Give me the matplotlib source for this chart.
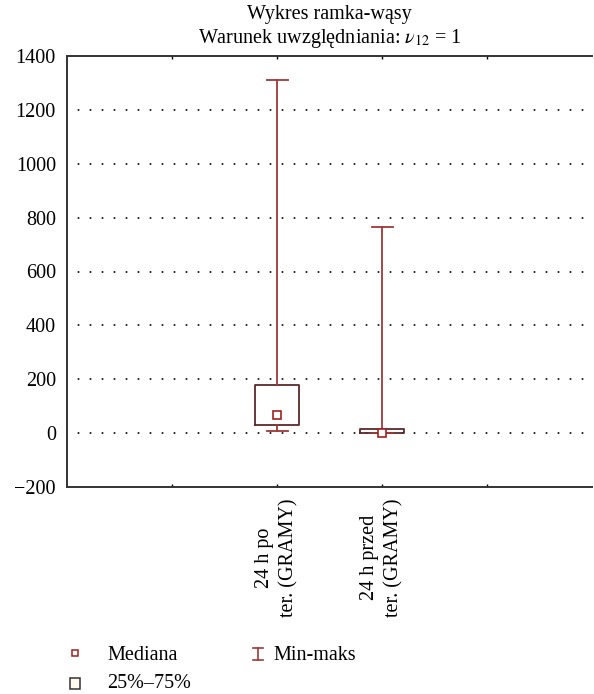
import matplotlib
matplotlib.use("Agg")
import matplotlib.pyplot as plt
from matplotlib.lines import Line2D
from matplotlib.patches import Rectangle

plt.rcParams['font.family'] = ['Liberation Serif', 'DejaVu Serif']
plt.rcParams['mathtext.fontset'] = 'stix'

# Data
categories = ["24 h po\nter. (GRAMY)", "24 h przed\nter. (GRAMY)"]
positions = [2, 3]
medians = [67, 0]
q1 = [30, 0]
q3 = [178, 14]
mins = [8, 0]
maxs = [1310, 767]
yticks = [-200, 0, 200, 400, 600, 800, 1000, 1200, 1400]

W, H = 594, 694
fig = plt.figure(figsize=(W/100, H/100), dpi=100)
ax = fig.add_axes([67/W, 1-487/H, (592-67)/W, (487-56)/H])

box_edge = '#5a2a2a'
whisk_col = '#a03838'
med_col = '#a02020'

stats = []
for i in range(len(categories)):
    stats.append(dict(med=medians[i], q1=q1[i], q3=q3[i],
                      whislo=mins[i], whishi=maxs[i], fliers=[]))

ax.bxp(stats, positions=positions, widths=0.41, capwidths=0.2,
       showfliers=False, patch_artist=False,
       boxprops=dict(color=box_edge, linewidth=1.3),
       whiskerprops=dict(color=whisk_col, linewidth=1.3),
       capprops=dict(color=whisk_col, linewidth=1.3),
       medianprops=dict(linewidth=0))
ax.plot(positions, medians, linestyle='none', marker='s', markersize=6,
        markerfacecolor='white', markeredgecolor=med_col, markeredgewidth=1.2,
        zorder=5)

FS = 14.5
ax.set_xlim(0, 5)
ax.set_ylim(-200, 1400)
ax.set_yticks(yticks)
ax.set_yticklabels([("\u2212" + str(-v)) if v < 0 else str(v) for v in yticks], fontsize=FS)
ax.set_xticks([1, 2, 3, 4])
ax.set_xticklabels(["", categories[0], categories[1], ""], rotation=90,
                   fontsize=FS, multialignment='center', va='top', linespacing=1.35)
ax.tick_params(axis='x', direction='in', length=2.5, width=1, top=True, pad=8)
ax.tick_params(axis='y', length=0, pad=8)
for v in yticks[1:-1]:
    ax.axhline(v, color='black', linestyle=(0.8, (1, 6.2)), linewidth=1.2, zorder=0)
for s in ['left', 'bottom', 'top']:
    ax.spines[s].set_linewidth(1.4)
    ax.spines[s].set_color('#333333')
ax.spines['right'].set_visible(False)

fig.text(329.5/W, 1-14/H, "Wykres ramka-wąsy", ha='center', va='center', fontsize=FS)
fig.text(329.5/W, 1-38/H, "Warunek uwzględniania: $\\nu_{12}$ = 1", ha='center', va='center', fontsize=FS)

# Legend
fig.add_artist(Line2D([75/W], [1-653/H], marker='s', markersize=5,
                      markerfacecolor='white', markeredgecolor=med_col,
                      markeredgewidth=1.1, linestyle='none'))
fig.text(107/W, 1-656/H, "Mediana", ha='left', va='center', fontsize=FS)
fig.add_artist(Rectangle((70/W, 1-689/H), 10/W, 11/H, transform=fig.transFigure,
                         facecolor='#fffaf0', edgecolor='#333333', linewidth=1.1))
fig.text(107/W, 1-683/H, "25%–75%", ha='left', va='center', fontsize=FS)
xm = 258
fig.add_artist(Line2D([xm/W, xm/W], [1-648/H, 1-660/H], color=whisk_col, linewidth=1.2))
fig.add_artist(Line2D([(xm-5)/W, (xm+5)/W], [1-648/H, 1-648/H], color=whisk_col, linewidth=1.2))
fig.add_artist(Line2D([(xm-5)/W, (xm+5)/W], [1-660/H, 1-660/H], color=whisk_col, linewidth=1.2))
fig.text(273/W, 1-656/H, "Min-maks", ha='left', va='center', fontsize=FS)

fig.savefig("out.png", dpi=100)
